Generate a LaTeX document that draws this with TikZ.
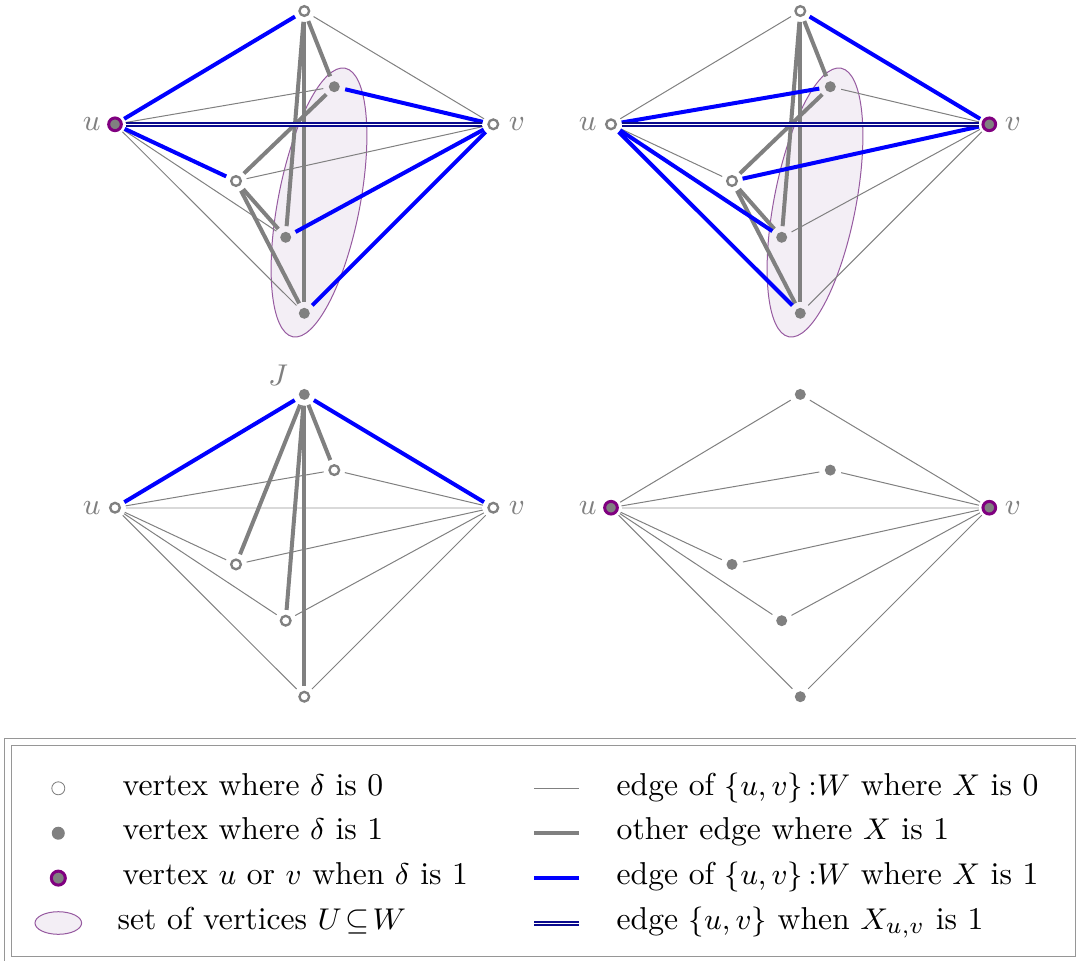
\documentclass[tikz,border=0pt]{standalone}
\definecolor{vpurple}{RGB}{128,0,128}
\definecolor{navyc}{RGB}{10,10,140}
\definecolor{setfill}{RGB}{243,238,245}
\definecolor{setborder}{RGB}{150,90,160}
\definecolor{framec}{RGB}{150,150,150}
\pgfdeclarelayer{ellayer}
\pgfdeclarelayer{edgelayer}
\pgfsetlayers{ellayer,edgelayer,main}
\tikzset{
  vzero/.style={circle,draw=gray,fill=white,line width=0.7pt,inner sep=0pt,minimum size=2.9pt,outer sep=1.8pt},
  vone/.style={circle,fill=gray,inner sep=0pt,minimum size=3.3pt,outer sep=1.7pt},
  vring/.style={circle,fill=gray,draw=vpurple,line width=0.9pt,inner sep=0pt,minimum size=3.8pt,outer sep=1.3pt},
  ezero/.style={draw=gray,line width=0.3pt},
  eother/.style={draw=gray,line width=1.2pt},
  eblue/.style={draw=blue,line width=1.2pt},
  euv/.style={draw=navyc,double=white,double distance=0.3pt,line width=0.6pt},
  euvzero/.style={draw=gray!30,line width=0.6pt},
  setU/.style={draw=setborder,fill=setfill,line width=0.3pt},
  lbl/.style={text=gray,inner sep=0pt,font=\fontsize{9.5}{11.4}\selectfont},
  legtext/.style={anchor=base west,inner sep=0pt,font=\fontsize{9.5}{11.4}\selectfont},
  lzero/.style={circle,draw=gray,fill=white,line width=0.25pt,inner sep=0pt,minimum size=3.9pt},
  lone/.style={circle,fill=gray,inner sep=0pt,minimum size=3.9pt},
  lring/.style={circle,fill=gray,draw=vpurple,line width=0.9pt,inner sep=0pt,minimum size=4.2pt},
}
\newcommand\mkverts[8]{%
  \node[#2] (#1u) at (115,124.3) {};
  \node[#3] (#1v) at (493.3,124.3) {};
  \node[#4] (#1t) at (304.3,11) {};
  \node[#5] (#1a) at (334.3,86.7) {};
  \node[#6] (#1b) at (236,181) {};
  \node[#7] (#1c) at (285.7,237.3) {};
  \node[#8] (#1d) at (304.3,313.3) {};
  \node[lbl] (#1ul) at (91.7,124.3) {$u$};
  \node[lbl] (#1vl) at (517,124.3) {$v$};
}
\newcommand\mkedges[3]{\foreach \p/\q in {#3} {\draw[#2] (#1\p) -- (#1\q);}}
\begin{document}
\begin{tikzpicture}[x=0.3pt,y=-0.3pt]
\useasboundingbox (0,0) rectangle (1076,960);
% ---------- top left ----------
\begin{scope}
  \mkverts{TL}{vring}{vzero}{vzero}{vone}{vzero}{vone}{vone}
  \begin{pgfonlayer}{ellayer}
    \draw[setU, rotate around={79:(319,202.5)}] (319,202.5) ellipse [x radius=136.8, y radius=40.9];
  \end{pgfonlayer}
  \begin{pgfonlayer}{edgelayer}
    \mkedges{TL}{ezero}{t/v,u/a,b/v,u/c,u/d}
    \mkedges{TL}{eother}{t/a,t/c,t/d,a/b,b/c,b/d}
    \mkedges{TL}{eblue}{u/t,u/b,a/v,c/v,d/v}
    \mkedges{TL}{euv}{u/v}
  \end{pgfonlayer}
\end{scope}
% ---------- top right ----------
\begin{scope}[shift={(496,0)}]
  \mkverts{TR}{vzero}{vring}{vzero}{vone}{vzero}{vone}{vone}
  \begin{pgfonlayer}{ellayer}
    \draw[setU, rotate around={79:(319,202.5)}] (319,202.5) ellipse [x radius=136.8, y radius=40.9];
  \end{pgfonlayer}
  \begin{pgfonlayer}{edgelayer}
    \mkedges{TR}{ezero}{u/t,a/v,u/b,c/v,d/v}
    \mkedges{TR}{eother}{t/a,t/c,t/d,a/b,b/c,b/d}
    \mkedges{TR}{eblue}{t/v,u/a,b/v,u/c,u/d}
    \mkedges{TR}{euv}{u/v}
  \end{pgfonlayer}
\end{scope}
% ---------- bottom left ----------
\begin{scope}[shift={(0,383.4)}]
  \mkverts{BL}{vzero}{vzero}{vone}{vzero}{vzero}{vzero}{vzero}
  \node[lbl] (BLJ) at (278,-8.4) {$J$};
  \begin{pgfonlayer}{edgelayer}
    \mkedges{BL}{euvzero}{u/v}
    \mkedges{BL}{ezero}{u/a,a/v,u/b,b/v,u/c,c/v,u/d,d/v}
    \mkedges{BL}{eother}{t/a,t/b,t/c,t/d}
    \mkedges{BL}{eblue}{u/t,t/v}
  \end{pgfonlayer}
\end{scope}
% ---------- bottom right ----------
\begin{scope}[shift={(496,383.4)}]
  \mkverts{BR}{vring}{vring}{vone}{vone}{vone}{vone}{vone}
  \begin{pgfonlayer}{edgelayer}
    \mkedges{BR}{euvzero}{u/v}
    \mkedges{BR}{ezero}{u/t,t/v,u/a,a/v,u/b,b/v,u/c,c/v,u/d,d/v}
  \end{pgfonlayer}
\end{scope}
% ---------- legend ----------
\draw[framec,line width=0.3pt] (4,738.3) rectangle (1100,975);
\draw[framec,line width=0.3pt] (11,745) rectangle (1075,956.7);
\node[lzero] (L1) at (58.3,788.3) {};
\node[lone] (L2) at (58.3,833.2) {};
\node[lring] (L3) at (58.3,878.1) {};
\draw[setU] (58.3,923) ellipse [x radius=23.3, y radius=11.3];
\node[legtext] (T1) at (122,795) {vertex where $\delta$ is 0};
\node[legtext] (T2) at (122,839.9) {vertex where $\delta$ is 1};
\node[legtext] (T3) at (122,884.8) {vertex $u$ or $v$ when $\delta$ is 1};
\node[legtext] (T4) at (117,929.7) {set of vertices $U\!\subseteq\! W$};
\coordinate (A1) at (534,788.3); \coordinate (B1) at (579,788.3);
\coordinate (A2) at (534,833.2); \coordinate (B2) at (579,833.2);
\coordinate (A3) at (534,878.1); \coordinate (B3) at (579,878.1);
\coordinate (A4) at (534,923);   \coordinate (B4) at (579,923);
\draw[ezero] (A1) -- (B1);
\draw[eother] (A2) -- (B2);
\draw[eblue] (A3) -- (B3);
\draw[euv] (A4) -- (B4);
\node[legtext] (R1) at (616,795) {edge of $\{u,v\}\,{:}W$ where $X$ is 0};
\node[legtext] (R2) at (616,839.9) {other edge where $X$ is 1};
\node[legtext] (R3) at (616,884.8) {edge of $\{u,v\}\,{:}W$ where $X$ is 1};
\node[legtext] (R4) at (616,929.7) {edge $\{u,v\}$ when $X_{u,v}$ is 1};
\end{tikzpicture}
\end{document}
